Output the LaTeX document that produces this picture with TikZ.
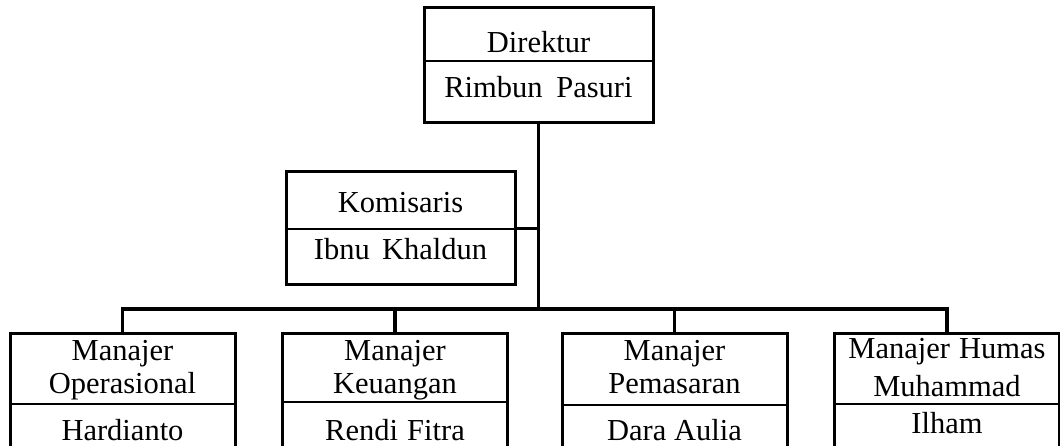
\documentclass[tikz,border=0pt]{standalone}
\usepackage{fontspec}
\setmainfont{Liberation Serif}
\begin{document}
\begin{tikzpicture}[x=1pt,y=-1pt,
  box/.style={draw=black,line width=3pt,rectangle,inner sep=0pt,minimum width=229pt,minimum height=#1},
  box/.default=115pt,
  divider/.style={line width=1.4pt},
  conn/.style={line width=3.2pt},
  lbl/.style={anchor=base,inner sep=0pt,font=\fontsize{30.5}{33}\selectfont}]
\useasboundingbox (0,0) rectangle (1060,446);
\clip (0,0) rectangle (1060,446);
% boxes
\node[box] (dir) at (538.5,65.5) {};
\node[box=113pt] (kom) at (400.5,228.5) {};
\node[box=150pt,minimum width=225pt] (m1) at (122.5,408) {};
\node[box=150pt,minimum width=225pt] (m2) at (395,408) {};
\node[box=150pt,minimum width=225pt] (m3) at (674.5,408) {};
\node[box=150pt,minimum width=225pt] (m4) at (947,408) {};
% dividers
\draw[divider] (dir.west |- 0,61) -- (dir.east |- 0,61);
\draw[divider] (kom.west |- 0,229) -- (kom.east |- 0,229);
\draw[divider] (m1.west |- 0,404) -- (m1.east |- 0,404);
\draw[divider] (m2.west |- 0,402) -- (m2.east |- 0,402);
\draw[divider] (m3.west |- 0,405) -- (m3.east |- 0,405);
\draw[divider] (m4.west |- 0,404) -- (m4.east |- 0,404);
% labels
\node[lbl] (dirT) at (538.5,53) {Direktur};
\node[lbl] (dirN) at (538.5,98) {Rimbun\hspace{0.45em}Pasuri};
\node[lbl] (komT) at (400.5,213) {Komisaris};
\node[lbl] (komN) at (400.5,260) {Ibnu\hspace{0.4em}Khaldun};
\node[lbl] (m1a) at (122.5,360) {Manajer};
\node[lbl] (m1b) at (122.5,393) {Operasional};
\node[lbl] (m1n) at (122.5,440) {Hardianto};
\node[lbl] (m2a) at (395,360) {Manajer};
\node[lbl] (m2b) at (395,393) {Keuangan};
\node[lbl] (m2n) at (395,440) {Rendi\hspace{0.3em}Fitra};
\node[lbl] (m3a) at (674.5,360) {Manajer};
\node[lbl] (m3b) at (674.5,393) {Pemasaran};
\node[lbl] (m3n) at (674.5,440) {Dara Aulia};
\node[lbl] (m4a) at (947,358) {Manajer\hspace{0.3em}Humas};
\node[lbl] (m4b) at (947,396) {Muhammad};
\node[lbl] (m4n) at (947,433) {Ilham};
% connectors
\coordinate (bus) at (538.5,309);
\draw[conn] (dir.south) -- (bus);
\draw[conn] (kom.east) -- (kom.east -| bus);
\draw[conn] (m1.north) |- (m4.north |- bus) -- (m4.north);
\draw[conn] (m2.north) -- (m2.north |- bus);
\draw[conn] (m3.north) -- (m3.north |- bus);
\end{tikzpicture}
\end{document}
